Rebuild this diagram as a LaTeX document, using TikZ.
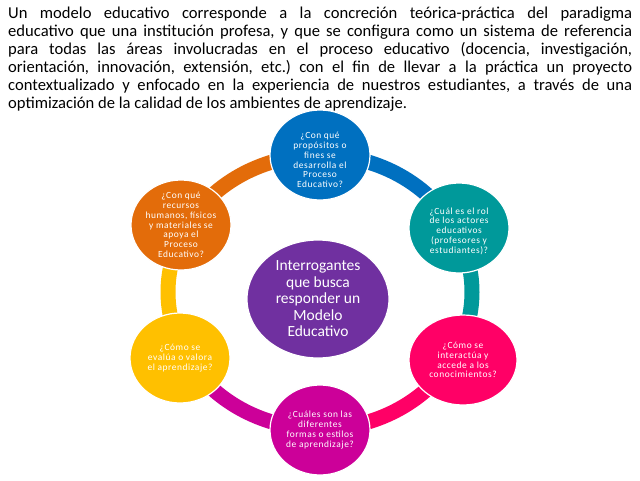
\documentclass[tikz,border=0pt]{standalone}
\usepackage{fontspec}
\setmainfont{Carlito}
\newfontfamily\bubfont[LetterSpace=6]{Carlito}
\usetikzlibrary{shapes.geometric}
\definecolor{cblue}{HTML}{0070C0}
\definecolor{cteal}{HTML}{00999A}
\definecolor{cpink}{HTML}{FF0066}
\definecolor{cmag}{HTML}{CC0099}
\definecolor{cyel}{HTML}{FFC000}
\definecolor{corg}{HTML}{E36C0A}
\definecolor{cpur}{HTML}{7030A0}
\frenchspacing
\begin{document}
\begin{tikzpicture}[x=1pt,y=1pt,
  ringarc/.style={line width=15pt},
  bub/.style={ellipse, fill=#1, draw=white, line width=1.2pt, minimum width=100pt, minimum height=90pt, inner sep=0pt},
  bubtext/.style={align=center, text=white, inner sep=0pt, font=\bubfont\fontsize{9.4}{9.8}\selectfont},
  hub/.style={ellipse, fill=cpur, draw=white, line width=1.2pt, minimum width=142pt, minimum height=118pt, inner sep=0pt},
  hubtext/.style={align=center, text=white, inner sep=0pt, font=\fontsize{15.5}{16.5}\selectfont}]
\useasboundingbox (0,0) rectangle (640,-480);
\fill[white] (0,0) rectangle (640,-480);
\node[anchor=north west, inner sep=0pt, text width=624pt, align=justify, font=\fontsize{16.6}{18}\selectfont\frenchspacing] (para) at (8,-7)
{Un modelo educativo corresponde a la concreción teórica-práctica del paradigma\linebreak
educativo que una institución profesa, y que se configura como un sistema de referencia\linebreak
para todas las áreas involucradas en el proceso educativo (docencia, investigación,\linebreak
orientación, innovación, extensión, etc.) con el fin de llevar a la práctica un proyecto\linebreak
contextualizado y enfocado en la experiencia de nuestros estudiantes, a través de una\linebreak
optimización de la calidad de los ambientes de aprendizaje.};
\coordinate (ring) at (320,-292);
\draw[ringarc, draw=cblue] (ring) ++(90:152pt and 137pt) arc[start angle=90, end angle=30, x radius=152pt, y radius=137pt];
\draw[ringarc, draw=cteal] (ring) ++(30:152pt and 137pt) arc[start angle=30, end angle=-30, x radius=152pt, y radius=137pt];
\draw[ringarc, draw=cpink] (ring) ++(-30:152pt and 137pt) arc[start angle=-30, end angle=-90, x radius=152pt, y radius=137pt];
\draw[ringarc, draw=cmag] (ring) ++(-90:152pt and 137pt) arc[start angle=-90, end angle=-150, x radius=152pt, y radius=137pt];
\draw[ringarc, draw=cyel] (ring) ++(-150:152pt and 137pt) arc[start angle=-150, end angle=-210, x radius=152pt, y radius=137pt];
\draw[ringarc, draw=corg] (ring) ++(150:152pt and 137pt) arc[start angle=150, end angle=90, x radius=152pt, y radius=137pt];
\node[hub] (c) at (318,-299) {};
\node[hubtext] (ct) at (c) {Interrogantes\\que busca\\responder un\\Modelo\\Educativo};
\node[bub=cblue] (q1) at (320,-155) {};
\node[bubtext] (q1t) at ([yshift=-5pt]q1) {¿Con qué\\propósitos o\\fines se\\desarrolla el\\Proceso\\Educativo?};
\node[bub=cteal] (q2) at (459,-228) {};
\node[bubtext] (q2t) at ([yshift=-3pt]q2) {¿Cuál es el rol\\de los actores\\educativos\\(profesores y\\estudiantes)?};
\node[bub=cpink, minimum width=108pt] (q3) at (463,-360) {};
\node[bubtext] (q3t) at (q3) {¿Cómo se\\interactúa y\\accede a los\\conocimientos?};
\node[bub=cmag] (q4) at (320,-430) {};
\node[bubtext] (q4t) at (q4) {¿Cuáles son las\\diferentes\\formas o estilos\\de aprendizaje?};
\node[bub=cyel] (q5) at (180,-358) {};
\node[bubtext] (q5t) at (q5) {¿Cómo se\\evalúa o valora\\el aprendizaje?};
\node[bub=corg] (q6) at (181,-225) {};
\node[bubtext] (q6t) at (q6) {¿Con qué\\recursos\\humanos, físicos\\y materiales se\\apoya el\\Proceso\\Educativo?};
\end{tikzpicture}
\end{document}
